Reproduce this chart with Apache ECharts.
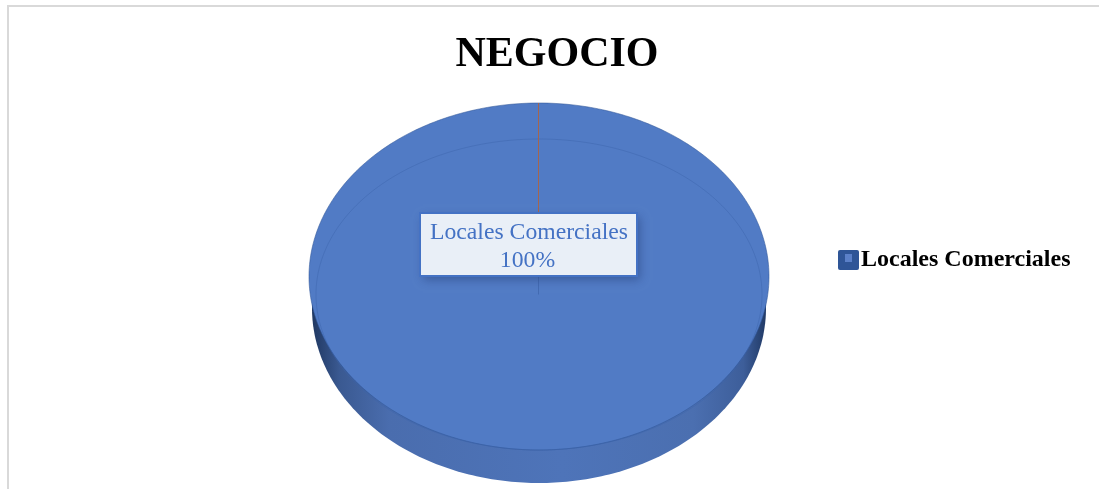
<!DOCTYPE html>
<html>
<head>
<meta charset="utf-8">
<style>html,body{margin:0;padding:0;background:#fff}#chart{width:1099px;height:489px}</style>
<script src="https://cdn.jsdelivr.net/npm/echarts@6/dist/echarts.min.js"></script>
</head>
<body>
<div id="chart"></div>
<script>
const chartTitle = 'NEGOCIO';
const categories = ['Locales Comerciales'];
const shares = [100];

const SERIF = '"Liberation Serif", "Times New Roman", serif';
const FACE = '#517bc5';

// Pie geometry: tilted disc with a visible rim
const disc = {
  cx: 539,
  face: { cy: 276.5, rx: 230, ry: 173.5 },
  inner: { cy: 294.5, rx: 223, ry: 155.5 },
  rim: { cy: 308, rx: 227, ry: 175 }
};

// Outline of a slice on the tilted plane, starting at 12 o'clock and going clockwise
function slicePoints(e, fromShare, toShare) {
  const pts = [];
  const steps = Math.max(2, Math.ceil((toShare - fromShare) * 360));
  for (let i = 0; i <= steps; i++) {
    const a = (fromShare + (toShare - fromShare) * i / steps) * 2 * Math.PI;
    pts.push([disc.cx + e.rx * Math.sin(a), e.cy - e.ry * Math.cos(a)]);
  }
  if (toShare - fromShare < 1) pts.push([disc.cx, e.cy]);
  return pts;
}

const total = shares.reduce((s, v) => s + v, 0);

function renderSlice(params, api) {
  const idx = params.dataIndex;
  const share = api.value(0) / total;
  const before = shares.slice(0, idx).reduce((s, v) => s + v, 0) / total;
  const after = before + share;
  const name = categories[idx];
  const boxW = 217, boxH = 63, boxX = 420, boxY = 213;
  const edgeX = disc.cx - 0.5;
  return {
    type: 'group',
    children: [
      {
        type: 'polygon',
        shape: { points: slicePoints(disc.rim, before, after) },
        style: {
          fill: new echarts.graphic.LinearGradient(0, 0, 1, 0, [
            { offset: 0, color: '#203862' },
            { offset: 0.06, color: '#3a5991' },
            { offset: 0.17, color: '#4a6dae' },
            { offset: 0.55, color: '#4e74b9' },
            { offset: 0.84, color: '#4b6fb0' },
            { offset: 0.95, color: '#3d5e9a' },
            { offset: 1, color: '#213a66' }
          ])
        }
      },
      {
        type: 'polygon',
        shape: { points: slicePoints(disc.face, before, after) },
        style: { fill: FACE, stroke: 'rgba(47,85,151,0.55)', lineWidth: 1 }
      },
      {
        type: 'polyline',
        shape: { points: slicePoints(disc.inner, before, after) },
        style: { fill: null, stroke: 'rgba(60,100,170,0.45)', lineWidth: 1 }
      },
      {
        type: 'line',
        shape: { x1: edgeX, y1: disc.face.cy - disc.face.ry, x2: edgeX, y2: boxY },
        style: { stroke: '#a3654f', lineWidth: 1 }
      },
      {
        type: 'line',
        shape: { x1: edgeX, y1: boxY + boxH, x2: edgeX, y2: disc.inner.cy },
        style: { stroke: 'rgba(60,100,170,0.7)', lineWidth: 1 }
      },
      {
        // Soft drop shadow, kept apart from the border so it never falls across the fill
        type: 'rect',
        shape: { x: boxX, y: boxY, width: boxW, height: boxH },
        style: {
          fill: '#4472c4',
          shadowBlur: 9, shadowOffsetX: 3, shadowOffsetY: 4, shadowColor: 'rgba(30,55,110,0.45)'
        }
      },
      {
        type: 'rect',
        shape: { x: boxX, y: boxY, width: boxW, height: boxH },
        style: { fill: '#e9eff7', stroke: '#4472c4', lineWidth: 2 }
      },
      {
        type: 'text',
        style: {
          x: boxX + boxW / 2 + 0.5, y: boxY + 20,
          text: name, fill: '#4472c4',
          font: '23.7px ' + SERIF, align: 'center', verticalAlign: 'middle'
        }
      },
      {
        type: 'text',
        style: {
          x: boxX + boxW / 2 - 1, y: boxY + 48,
          text: Math.round(share * 100) + '%', fill: '#4472c4',
          font: '23.7px ' + SERIF, align: 'center', verticalAlign: 'middle'
        }
      }
    ]
  };
}

const chart = echarts.init(document.getElementById('chart'), null, { renderer: 'canvas' });
chart.setOption({
  animation: false,
  backgroundColor: '#ffffff',
  title: {
    text: chartTitle,
    left: 552, top: 29, textAlign: 'center',
    textStyle: { fontFamily: SERIF, fontWeight: 'bold', fontSize: 42, color: '#000000' }
  },
  legend: {
    data: categories,
    orient: 'vertical',
    left: 838, top: 248,
    padding: 0,
    itemWidth: 21, itemHeight: 20, itemGap: 8,
    icon: 'path://M2 0H19A2 2 0 0 1 21 2V18A2 2 0 0 1 19 20H2A2 2 0 0 1 0 18V2A2 2 0 0 1 2 0Z',
    selectedMode: false,
    formatter: n => n,
    textStyle: { fontFamily: SERIF, fontWeight: 'bold', fontSize: 24, color: '#000000', padding: [0, 0, 0, -3] }
  },
  graphic: [
    // Chart-area frame: only the top and left edges fall inside the page
    {
      type: 'polyline', z: 0,
      shape: { points: [[8, 489], [8, 6], [1099, 6]] },
      style: { fill: null, stroke: '#d9d9d9', lineWidth: 2 }
    },
    // Lighter core of the legend swatch
    {
      type: 'rect', z: 100,
      shape: { x: 845, y: 254, width: 7, height: 8 },
      style: { fill: '#5b80c8' }
    }
  ],
  series: [{
    type: 'custom',
    name: categories[0],
    coordinateSystem: 'none',
    itemStyle: { color: '#2f5597' },
    data: shares.map((v, i) => ({ name: categories[i], value: [v] })),
    renderItem: renderSlice
  }]
});
</script>
</body>
</html>
